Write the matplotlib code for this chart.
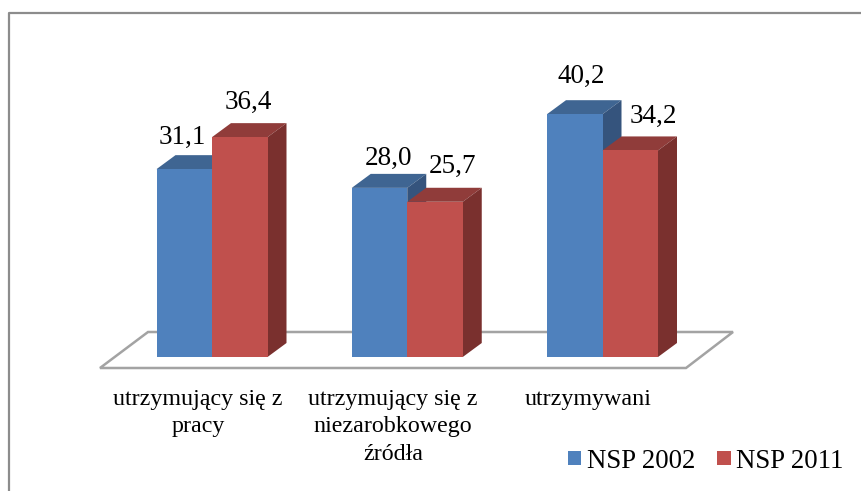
import matplotlib

matplotlib.use("Agg")
from matplotlib import pyplot as plt
from matplotlib.lines import Line2D
from matplotlib.patches import Polygon, Rectangle

plt.rcParams["font.family"] = ["Liberation Serif", "DejaVu Serif"]

categories = ["utrzymujący się z\npracy", "utrzymujący się z\nniezarobkowego\nźródła", "utrzymywani"]
nsp_2002 = [31.1, 28.0, 40.2]
nsp_2011 = [36.4, 25.7, 34.2]
series_names = ["NSP 2002", "NSP 2011"]

W, H = 861, 491
# pixels per category / per percent
px_x = 195.25
px_y = 6.04
base_x = 212
base_y = 357

bar_w = 55.5 / px_x
dx = 19 / px_x
dy = 14 / px_y

blue = ["#4F81BD", "#3F6592", "#35547D"]
red = ["#C0504D", "#903C3A", "#7A302E"]

fig = plt.figure(figsize=(W / 100, H / 100), dpi=100)
ax = fig.add_axes([0, 0, 1, 1])
ax.set_xlim(-base_x / px_x, (W - base_x) / px_x)
ax.set_ylim(-(H - base_y) / px_y, base_y / px_y)
ax.axis("off")

# outer frame, only left and top show
fig.add_artist(Line2D([8.5 / W, 8.5 / W, 1], [0, 1 - 12.5 / H, 1 - 12.5 / H], color="#8C8C8C", lw=1.6))

# floor
floor_x = [(p - base_x) / px_x for p in (100, 148, 733, 686)]
floor_y = [(base_y - p) / px_y for p in (368, 332, 332, 368)]
ax.add_patch(Polygon(list(zip(floor_x, floor_y)), closed=True, facecolor="white",
                     edgecolor="#A3A3A3", lw=1.8, zorder=1))


def bar3d(x, v, cols, z):
    left = x - bar_w / 2
    right = x + bar_w / 2
    ax.bar(x, v, width=bar_w, color=cols[0], zorder=z + 1)
    top = [(left, v), (left + dx, v + dy), (right + dx, v + dy), (right, v)]
    side = [(right, 0), (right + dx, dy), (right + dx, v + dy), (right, v)]
    ax.add_patch(Polygon(top, closed=True, facecolor=cols[1], edgecolor="none", zorder=z))
    ax.add_patch(Polygon(side, closed=True, facecolor=cols[2], edgecolor="none", zorder=z))


for i in range(len(categories)):
    bar3d(i - bar_w / 2, nsp_2002[i], blue, 2)
    bar3d(i + bar_w / 2, nsp_2011[i], red, 4)

# value labels, offsets in pixels from the top of the front face
offs_2002 = [(-1.5, 32), (9.5, 29), (6.5, 38)]
offs_2011 = [(9, 35), (18, 35), (23, 34.5)]
for i in range(len(categories)):
    for x, v, o in [(i - bar_w / 2, nsp_2002[i], offs_2002[i]), (i + bar_w / 2, nsp_2011[i], offs_2011[i])]:
        ax.text(x + o[0] / px_x, v + o[1] / px_y, f"{v:.1f}".replace(".", ","), fontsize=19.5,
                ha="center", va="center", color="black", zorder=10)

# category labels
for i, name in enumerate(categories):
    ax.text(i - 14 / px_x, (base_y - 389) / px_y, name, fontsize=17.3, ha="center", va="top",
            linespacing=1.4, color="black", zorder=10)

# legend
for name, col, sq, tx in zip(series_names, [blue[0], red[0]], (567.5, 717), (587, 736)):
    ax.add_patch(Rectangle(((sq - base_x) / px_x, (base_y - 465) / px_y), 13.5 / px_x, 14 / px_y,
                           facecolor=col, edgecolor="none", zorder=10))
    ax.text((tx - base_x) / px_x, (base_y - 461) / px_y, name, fontsize=19.3, ha="left", va="center",
            color="black", zorder=10)

fig.savefig("out.png", dpi=100)
